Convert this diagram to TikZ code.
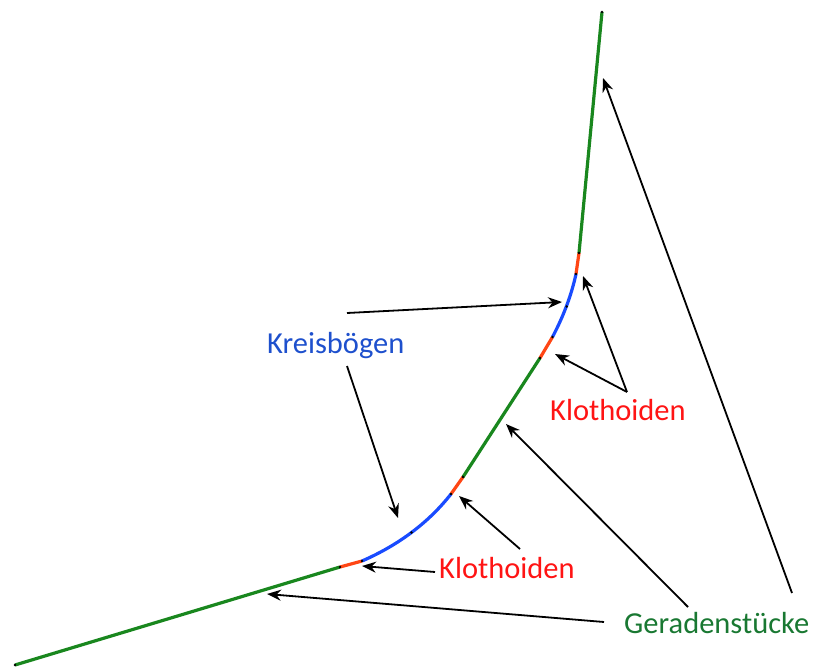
\documentclass[tikz,border=0pt]{standalone}
\usepackage{fontspec}
\setmainfont{Carlito}
\usepackage{xcolor}
\usetikzlibrary{arrows.meta}

\definecolor{gerade}{RGB}{25,135,30}
\definecolor{bogen}{RGB}{25,75,255}
\definecolor{klotho}{RGB}{255,70,20}
\definecolor{txtblau}{RGB}{30,80,205}
\definecolor{txtrot}{RGB}{255,20,20}
\definecolor{txtgruen}{RGB}{25,120,50}

\begin{document}
\begin{tikzpicture}[x=1pt, y=-1pt,
    arr/.style={-{Stealth[length=14pt, width=11pt]}, line width=1.8pt},
    trasse/.style={line width=3.2pt},
    lbl/.style={anchor=base west, inner sep=0pt, font=\fontsize{30.5}{34}\selectfont}]
  \useasboundingbox (0,0) rectangle (814,669);

  % Trasse: Punkte
  \coordinate (p0) at (15,665);
  \coordinate (p1) at (340,567);
  \coordinate (p2) at (362,561);
  \coordinate (p3) at (451,494);
  \coordinate (p4) at (463,477);
  \coordinate (p5) at (540,358);
  \coordinate (p6) at (552.5,337);
  \coordinate (p7) at (576,274);
  \coordinate (p8) at (579,253);
  \coordinate (p9) at (602,12);

  % Geraden
  \draw[trasse, gerade] (p0) -- (p1);
  \draw[trasse, gerade] (p4) -- (p5);
  \draw[trasse, gerade] (p8) -- (p9);
  % Klothoiden
  \draw[trasse, klotho] (p1) -- (p2);
  \draw[trasse, klotho] (p3) -- (p4);
  \draw[trasse, klotho] (p5) -- (p6);
  \draw[trasse, klotho] (p7) -- (p8);
  % Kreisboegen
  \draw[trasse, bogen] (p2) .. controls (398.7,545) and (428.7,522.5) .. (p3);
  \draw[trasse, bogen] (p6) .. controls (563.7,315.8) and (571.5,294.7) .. (p7);

  % Uebergangspunkte
  \foreach \p in {p0,p1,p2,p3,p4,p5,p6,p7,p8,p9}
    \fill[black] (\p) circle (1.4pt);
  \fill[black] (411.5,532.5) circle (1.4pt);
  \fill[black] (566.8,306.5) circle (1.4pt);

  % Beschriftungen
  \node[lbl, text=txtblau] (kreis) at (267,353) {Kreisbögen};
  \node[lbl, text=txtrot] (kloA) at (550,420) {Klothoiden};
  \node[lbl, text=txtrot] (kloB) at (439,578) {Klothoiden};
  \node[lbl, text=txtgruen] (gerade) at (624,633) {Geradenstücke};

  % Pfeile
  \coordinate (k1) at (347,313);
  \coordinate (k2) at (347,366);
  \coordinate (ka) at (627,392);
  \coordinate (kb1) at (520,549);
  \coordinate (kb2) at (435,572);
  \coordinate (g1) at (604,622);
  \coordinate (g2) at (688,607);
  \coordinate (g3) at (792,593);

  \draw[arr] (k1) -- (562,302);
  \draw[arr] (k2) -- (398,518);
  \draw[arr] (ka) -- (583,276);
  \draw[arr] (ka) -- (555,354);
  \draw[arr] (kb1) -- (459,496);
  \draw[arr] (kb2) -- (362,566);
  \draw[arr] (g1) -- (267,594);
  \draw[arr] (g2) -- (506,424);
  \draw[arr] (g3) -- (603,78);
\end{tikzpicture}
\end{document}
